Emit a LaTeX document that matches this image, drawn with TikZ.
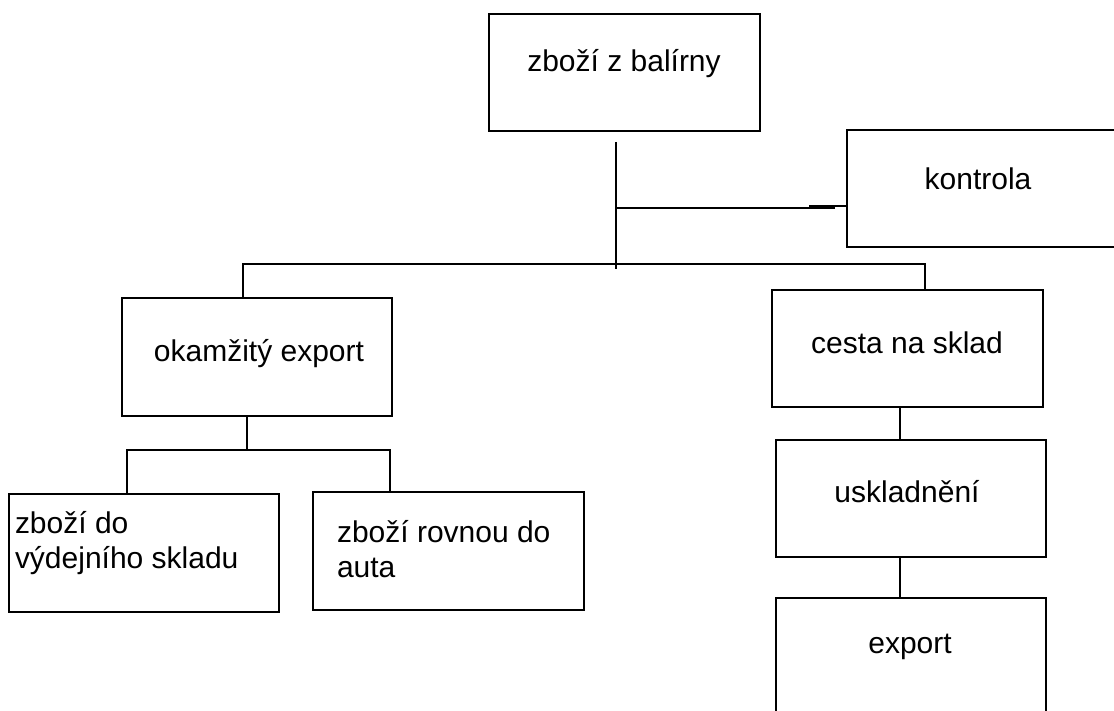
\documentclass[tikz,border=0pt]{standalone}
\usepackage{fontspec}
\setmainfont{Liberation Sans}
\tikzset{
  box/.style={draw=black, line width=1.8pt, inner sep=0pt, outer sep=0pt, anchor=north west, fill=white},
  lbl/.style={inner sep=0pt, outer sep=0pt, font=\fontsize{30}{35}\selectfont},
  conn/.style={draw=black, line width=1.8pt},
}
\begin{document}
\begin{tikzpicture}[x=1pt, y=-1pt]
\useasboundingbox (0,0) rectangle (1114,711);
\clip (0,0) rectangle (1114,711);
\fill[white] (0,0) rectangle (1114,711);

% boxes
\node[box, minimum width=271pt, minimum height=117pt] (A) at (489,14) {};
\node[box, minimum width=275pt, minimum height=117pt] (B) at (847,130) {};
\node[box, minimum width=270pt, minimum height=118pt] (C) at (122,298) {};
\node[box, minimum width=271pt, minimum height=117pt] (D) at (772,290) {};
\node[box, minimum width=270pt, minimum height=117pt] (E) at (776,440) {};
\node[box, minimum width=270pt, minimum height=125pt] (F) at (776,598) {};
\node[box, minimum width=270pt, minimum height=118pt] (G) at (9,494) {};
\node[box, minimum width=271pt, minimum height=118pt] (H) at (313,492) {};

% texts
\node[lbl, anchor=base] (tA) at (624,72) {zboží z balírny};
\node[lbl, anchor=base] (tB) at (978,190) {kontrola};
\node[lbl, anchor=base] (tC) at (259,362) {okamžitý export};
\node[lbl, anchor=base] (tD) at (907,353) {cesta na sklad};
\node[lbl, anchor=base] (tE) at (907,502) {uskladnění};
\node[lbl, anchor=base] (tF) at (910,653) {export};
\node[lbl, anchor=base west] (tG1) at (15,533) {zboží do};
\node[lbl, anchor=base west] (tG2) at (15,568) {výdejního skladu};
\node[lbl, anchor=base west] (tH1) at (337,542) {zboží rovnou do};
\node[lbl, anchor=base west] (tH2) at (337,577) {auta};

% connector coordinates
\coordinate (a1) at (616,142);
\coordinate (a2) at (616,269);
\coordinate (j1) at (616,208);
\coordinate (j2) at (835,208);
\coordinate (k1) at (809,206);
\coordinate (b1) at (243,264);
\coordinate (b2) at (925,264);
\coordinate (c1) at (247,450);
\coordinate (g1) at (127,450);
\coordinate (h1) at (390,450);
\coordinate (e1) at (900,0);

% connectors
\draw[conn] (a1) -- (a2);
\draw[conn] (j1) -- (j2);
\draw[conn, line width=2.4pt] (k1) -- (k1 -| B.west);
\draw[conn] (C.north -| b1) -- (b1) -- (b2) -- (D.north -| b2);
\draw[conn] (C.south -| c1) -- (c1);
\draw[conn] (G.north -| g1) -- (g1) -- (h1) -- (H.north -| h1);
\draw[conn] (D.south -| e1) -- (E.north -| e1);
\draw[conn] (E.south -| e1) -- (F.north -| e1);
\end{tikzpicture}
\end{document}
